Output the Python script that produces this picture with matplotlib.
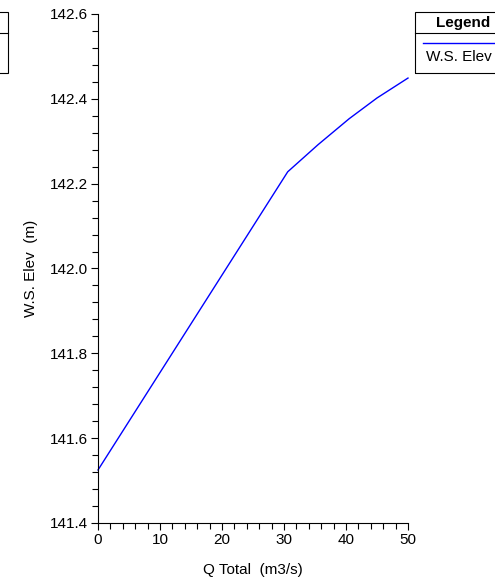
import matplotlib
matplotlib.use("Agg")
import matplotlib.pyplot as plt
from matplotlib.ticker import MultipleLocator
from matplotlib.patches import Rectangle
from matplotlib.lines import Line2D

plt.rcParams['font.family'] = ['Liberation Sans', 'DejaVu Sans']

q_total = [0.0, 30.6, 35.5, 40.5, 45.0, 50.0]
ws_elev = [141.525, 142.228, 142.292, 142.353, 142.402, 142.449]
series_name = "W.S. Elev"
x_label = "Q Total  (m3/s)"
y_label = "W.S. Elev  (m)"

FS = 11
W, H = 495, 584
fig = plt.figure(figsize=(W / 100, H / 100), dpi=100)
ax = fig.add_axes([98 / W, (H - 523) / H, (408 - 98) / W, (523 - 14) / H])

ax.plot(q_total, ws_elev, color='#0000ff', lw=1.0, clip_on=False)

ax.set_xlim(0, 50)
ax.set_ylim(141.4, 142.6)
ax.xaxis.set_major_locator(MultipleLocator(10))
ax.xaxis.set_minor_locator(MultipleLocator(2))
ax.yaxis.set_major_locator(MultipleLocator(0.2))
ax.yaxis.set_minor_locator(MultipleLocator(0.04))
ax.yaxis.set_major_formatter(matplotlib.ticker.FormatStrFormatter('%.1f'))
for s in ['top', 'right']:
    ax.spines[s].set_visible(False)
for s in ['left', 'bottom']:
    ax.spines[s].set_linewidth(0.8)
ax.tick_params(which='both', direction='out', width=0.8, labelsize=FS, colors='black')
ax.tick_params(which='major', length=5, pad=2)
ax.tick_params(which='minor', length=4)

fig.text(253 / W, 1 - 570 / H, x_label, ha='center', va='center', fontsize=FS)
fig.text(31 / W, 1 - 268 / H, y_label, ha='center', va='center', rotation=90, fontsize=FS)


def fx(x):
    return x / W


def fy(y):
    return 1 - y / H


# Legend box (clipped at right edge)
fig.add_artist(Rectangle((fx(415), fy(73)), fx(495 + 20) - fx(415), fy(12) - fy(73),
                         transform=fig.transFigure, fill=False, edgecolor='black', lw=0.8))
fig.add_artist(Line2D([fx(415), fx(500)], [fy(33), fy(33)], transform=fig.transFigure,
                      color='black', lw=0.8))
fig.text(fx(463), fy(22.5), "Legend", ha='center', va='center', fontsize=FS, fontweight='bold')
fig.add_artist(Line2D([fx(423), fx(500)], [fy(43), fy(43)], transform=fig.transFigure,
                      color='#0000ff', lw=1.0))
fig.text(fx(426), fy(57), series_name, ha='left', va='center', fontsize=FS)

# Partially visible box at left edge
fig.add_artist(Rectangle((fx(-20), fy(73)), fx(8) - fx(-20), fy(12) - fy(73),
                         transform=fig.transFigure, fill=False, edgecolor='black', lw=0.8))
fig.add_artist(Line2D([fx(-5), fx(8)], [fy(33), fy(33)], transform=fig.transFigure,
                      color='black', lw=0.8))

fig.savefig("out.png", dpi=100)
